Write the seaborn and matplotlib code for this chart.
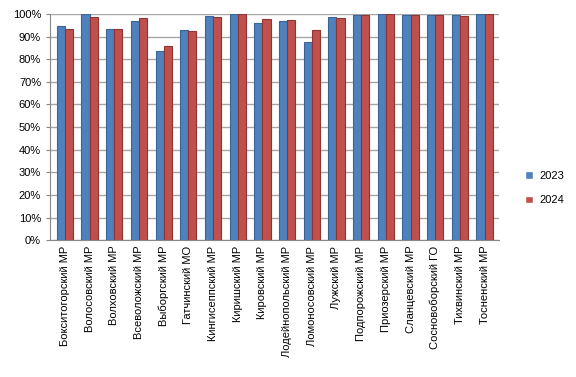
import pandas as pd
import matplotlib
matplotlib.use("Agg")
import matplotlib.pyplot as plt
import seaborn as sns
from matplotlib.ticker import PercentFormatter

districts = ["Бокситогорский МР", "Волосовский МР", "Волховский МР", "Всеволожский МР",
             "Выборгский МР", "Гатчинский МО", "Кингисеппский МР", "Киришский МР",
             "Кировский МР", "Лодейнопольский МР", "Ломоносовский МР", "Лужский МР",
             "Подпорожский МР", "Приозерский МР", "Сланцевский МР", "Сосновоборский ГО",
             "Тихвинский МР", "Тосненский МР"]
years = ["2023", "2024"]
vals_2023 = [94.5, 100, 93.5, 97, 83.5, 93, 99.3, 100, 96, 97, 87.5, 98.7, 99.5, 100, 99.5, 99.5, 99.5, 100]
vals_2024 = [93.5, 98.8, 93.2, 98.3, 86, 92.5, 98.5, 100, 97.8, 97.5, 92.8, 98.4, 99.6, 99.8, 99.5, 99.5, 99.3, 100]

df = pd.DataFrame({
    "district": districts * 2,
    "year": [years[0]] * len(districts) + [years[1]] * len(districts),
    "value": vals_2023 + vals_2024,
})

sns.set_style("white")
plt.rcParams["font.family"] = ["Liberation Sans", "DejaVu Sans"]
plt.rcParams["text.color"] = "black"
plt.rcParams["xtick.color"] = "black"
plt.rcParams["ytick.color"] = "black"

fig = plt.figure(figsize=(5.76, 3.77), dpi=100)
ax = fig.add_axes([0.087, 0.363, 0.78, 0.60])

sns.barplot(data=df, x="district", y="value", hue="year",
            palette=["#4F81BD", "#C0504D"], width=0.66, errorbar=None,
            saturation=1, ax=ax, zorder=3)
for bar, col in zip(ax.patches, ["#3A6596"] * len(districts) + ["#8E3532"] * len(districts)):
    bar.set_edgecolor(col)
    bar.set_linewidth(0.8)

ax.set_ylim(0, 100)
ax.set_yticks(range(0, 101, 10))
ax.yaxis.set_major_formatter(PercentFormatter(100, decimals=0))
ax.grid(axis="y", color="#A6A6A6", linewidth=1, zorder=0)
ax.set_xlim(-0.6, len(districts) - 0.4)
ax.tick_params(axis="x", labelsize=8, rotation=90, length=0, pad=4)
ax.tick_params(axis="y", labelsize=8, length=3, left=True, color="#888888")
ax.set_xlabel("")
ax.set_ylabel("")
for s in ["top", "right"]:
    ax.spines[s].set_visible(False)
for s in ["left", "bottom"]:
    ax.spines[s].set_color("#888888")

ax.legend(loc="center left", bbox_to_anchor=(1.035, 0.23), frameon=False,
          fontsize=8, handlelength=0.7, handleheight=0.7, labelspacing=1.3,
          handletextpad=0.6)

fig.savefig("out.png", dpi=100)
